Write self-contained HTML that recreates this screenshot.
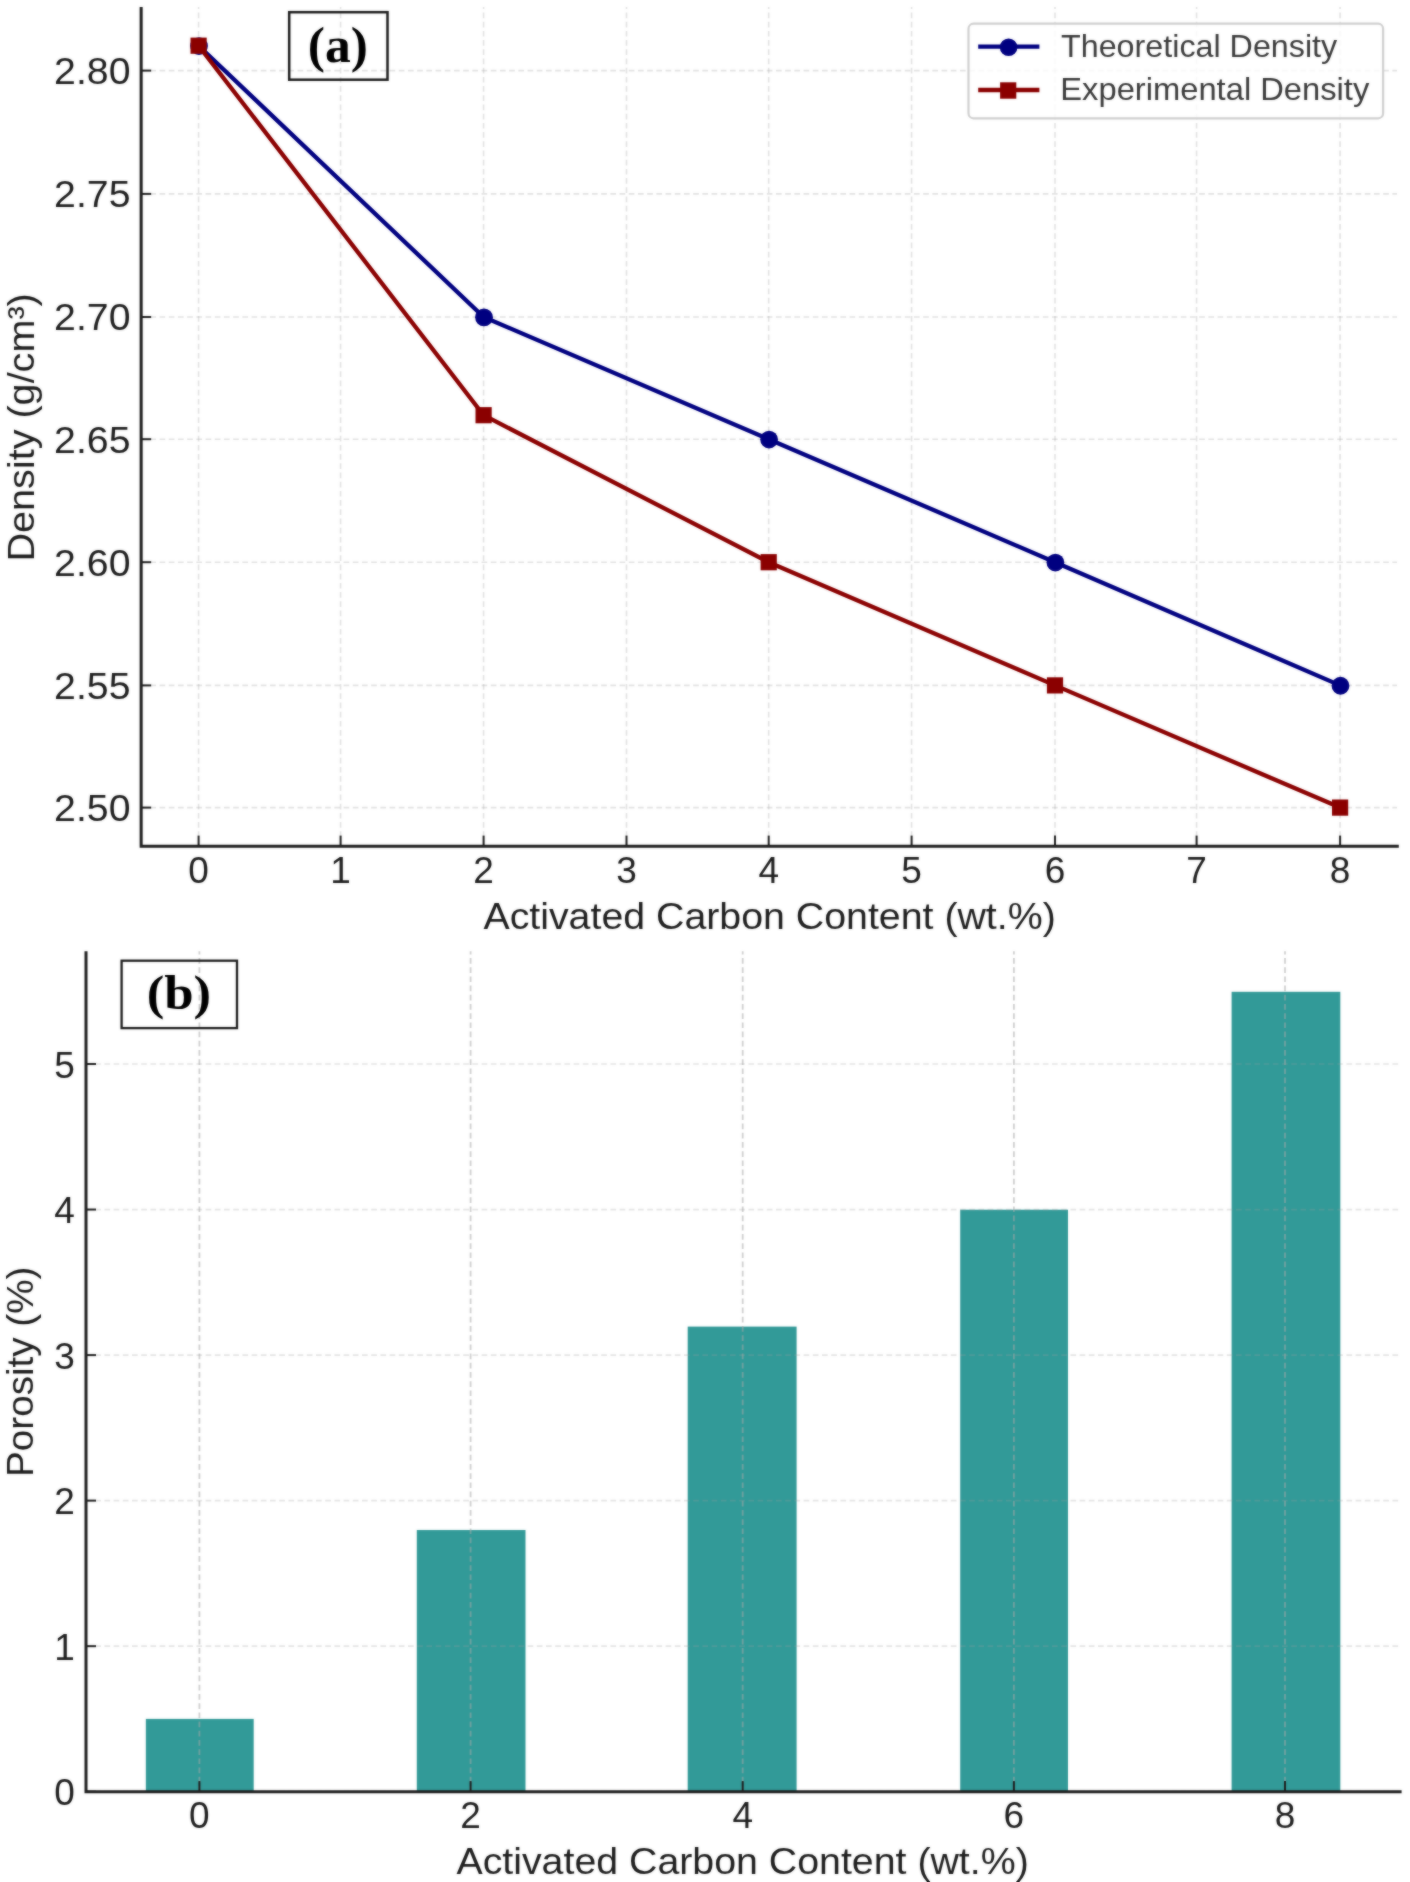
<!DOCTYPE html>
<html><head><meta charset="utf-8"><title>Density and porosity vs activated carbon content</title>
<style>html,body{margin:0;padding:0;background:#fff}body{width:1410px;height:1882px;overflow:hidden}svg{display:block;position:absolute;left:0;top:0}#crisp{filter:blur(0.3px)}#soft{filter:blur(0.8px);opacity:0.5}text{font-family:"Liberation Sans",sans-serif;fill:#1e1e1e}.ser{font-family:"Liberation Serif",serif;font-weight:bold;fill:#000}.lg{fill:#3a3a3a}</style></head><body>
<svg id="crisp" width="1410" height="1882" viewBox="0 0 1410 1882">
<defs><g id="fig">
<rect width="1410" height="1882" fill="#fff"/>
<g id="chart-a">
<line x1="198.60" y1="846.20" x2="198.60" y2="7.10" stroke="#a0a0a0" stroke-opacity="0.3" stroke-width="1.6" stroke-dasharray="5.7 3.5" fill="none"/>
<line x1="340.60" y1="846.20" x2="340.60" y2="7.10" stroke="#a0a0a0" stroke-opacity="0.3" stroke-width="1.6" stroke-dasharray="5.7 3.5" fill="none"/>
<line x1="483.60" y1="846.20" x2="483.60" y2="7.10" stroke="#a0a0a0" stroke-opacity="0.3" stroke-width="1.6" stroke-dasharray="5.7 3.5" fill="none"/>
<line x1="626.50" y1="846.20" x2="626.50" y2="7.10" stroke="#a0a0a0" stroke-opacity="0.3" stroke-width="1.6" stroke-dasharray="5.7 3.5" fill="none"/>
<line x1="768.70" y1="846.20" x2="768.70" y2="7.10" stroke="#a0a0a0" stroke-opacity="0.3" stroke-width="1.6" stroke-dasharray="5.7 3.5" fill="none"/>
<line x1="911.60" y1="846.20" x2="911.60" y2="7.10" stroke="#a0a0a0" stroke-opacity="0.3" stroke-width="1.6" stroke-dasharray="5.7 3.5" fill="none"/>
<line x1="1055.00" y1="846.20" x2="1055.00" y2="7.10" stroke="#a0a0a0" stroke-opacity="0.3" stroke-width="1.6" stroke-dasharray="5.7 3.5" fill="none"/>
<line x1="1196.60" y1="846.20" x2="1196.60" y2="7.10" stroke="#a0a0a0" stroke-opacity="0.3" stroke-width="1.6" stroke-dasharray="5.7 3.5" fill="none"/>
<line x1="1340.10" y1="846.20" x2="1340.10" y2="7.10" stroke="#a0a0a0" stroke-opacity="0.3" stroke-width="1.6" stroke-dasharray="5.7 3.5" fill="none"/>
<line x1="141.15" y1="807.60" x2="1397.00" y2="807.60" stroke="#a0a0a0" stroke-opacity="0.3" stroke-width="1.6" stroke-dasharray="5.7 3.5" fill="none"/>
<line x1="141.15" y1="685.40" x2="1397.00" y2="685.40" stroke="#a0a0a0" stroke-opacity="0.3" stroke-width="1.6" stroke-dasharray="5.7 3.5" fill="none"/>
<line x1="141.15" y1="562.20" x2="1397.00" y2="562.20" stroke="#a0a0a0" stroke-opacity="0.3" stroke-width="1.6" stroke-dasharray="5.7 3.5" fill="none"/>
<line x1="141.15" y1="439.20" x2="1397.00" y2="439.20" stroke="#a0a0a0" stroke-opacity="0.3" stroke-width="1.6" stroke-dasharray="5.7 3.5" fill="none"/>
<line x1="141.15" y1="317.00" x2="1397.00" y2="317.00" stroke="#a0a0a0" stroke-opacity="0.3" stroke-width="1.6" stroke-dasharray="5.7 3.5" fill="none"/>
<line x1="141.15" y1="193.90" x2="1397.00" y2="193.90" stroke="#a0a0a0" stroke-opacity="0.3" stroke-width="1.6" stroke-dasharray="5.7 3.5" fill="none"/>
<line x1="141.15" y1="70.60" x2="1397.00" y2="70.60" stroke="#a0a0a0" stroke-opacity="0.3" stroke-width="1.6" stroke-dasharray="5.7 3.5" fill="none"/>
<polyline fill="none" stroke="#000080" stroke-width="4.3" stroke-linejoin="round" points="198.60,45.70 483.60,317.00 768.70,439.20 1055.00,562.20 1340.10,685.40"/>
<circle cx="199.00" cy="46.05" r="8.9" fill="#000080"/>
<circle cx="484.00" cy="317.35" r="8.9" fill="#000080"/>
<circle cx="769.10" cy="439.55" r="8.9" fill="#000080"/>
<circle cx="1055.40" cy="562.55" r="8.9" fill="#000080"/>
<circle cx="1340.50" cy="685.75" r="8.9" fill="#000080"/>
<polyline fill="none" stroke="#8b0000" stroke-width="4.3" stroke-linejoin="round" points="198.60,45.70 483.60,415.20 768.70,562.20 1055.00,685.40 1340.10,807.60"/>
<rect x="190.50" y="37.60" width="16.2" height="16.2" fill="#8b0000"/>
<rect x="475.50" y="407.10" width="16.2" height="16.2" fill="#8b0000"/>
<rect x="760.60" y="554.10" width="16.2" height="16.2" fill="#8b0000"/>
<rect x="1046.90" y="677.30" width="16.2" height="16.2" fill="#8b0000"/>
<rect x="1332.00" y="799.50" width="16.2" height="16.2" fill="#8b0000"/>
<rect x="289.2" y="12.2" width="98.3" height="67.5" fill="none" stroke="#1c1c1c" stroke-width="2.5"/>
<text x="337.80" y="61.60" font-size="50.00" text-anchor="middle" textLength="60.20" lengthAdjust="spacingAndGlyphs" class="ser">(a)</text>
<rect x="968.5" y="23.7" width="414.6" height="94.6" rx="5" ry="5" fill="#fff" fill-opacity="0.8" stroke="#d0d0d0" stroke-width="2.2"/>
<line x1="978.2" y1="46.7" x2="1039.4" y2="46.7" stroke="#000080" stroke-width="4.3"/><circle cx="1008.6" cy="47.2" r="8.8" fill="#000080"/>
<line x1="978.2" y1="90.0" x2="1039.4" y2="90.0" stroke="#8b0000" stroke-width="4.3"/><rect x="1000.1" y="82.3" width="16.2" height="16.4" fill="#8b0000"/>
<text x="1061.00" y="56.80" font-size="30.50" text-anchor="start" textLength="276.20" lengthAdjust="spacingAndGlyphs" class="lg">Theoretical Density</text>
<text x="1060.30" y="100.40" font-size="30.50" text-anchor="start" textLength="309.00" lengthAdjust="spacingAndGlyphs" class="lg">Experimental Density</text>
<line x1="198.60" y1="846.20" x2="198.60" y2="835.60" stroke="#1e1e1e" stroke-width="2"/>
<text x="198.60" y="883.00" font-size="37.00" text-anchor="middle">0</text>
<line x1="340.60" y1="846.20" x2="340.60" y2="835.60" stroke="#1e1e1e" stroke-width="2"/>
<text x="340.60" y="883.00" font-size="37.00" text-anchor="middle">1</text>
<line x1="483.60" y1="846.20" x2="483.60" y2="835.60" stroke="#1e1e1e" stroke-width="2"/>
<text x="483.60" y="883.00" font-size="37.00" text-anchor="middle">2</text>
<line x1="626.50" y1="846.20" x2="626.50" y2="835.60" stroke="#1e1e1e" stroke-width="2"/>
<text x="626.50" y="883.00" font-size="37.00" text-anchor="middle">3</text>
<line x1="768.70" y1="846.20" x2="768.70" y2="835.60" stroke="#1e1e1e" stroke-width="2"/>
<text x="768.70" y="883.00" font-size="37.00" text-anchor="middle">4</text>
<line x1="911.60" y1="846.20" x2="911.60" y2="835.60" stroke="#1e1e1e" stroke-width="2"/>
<text x="911.60" y="883.00" font-size="37.00" text-anchor="middle">5</text>
<line x1="1055.00" y1="846.20" x2="1055.00" y2="835.60" stroke="#1e1e1e" stroke-width="2"/>
<text x="1055.00" y="883.00" font-size="37.00" text-anchor="middle">6</text>
<line x1="1196.60" y1="846.20" x2="1196.60" y2="835.60" stroke="#1e1e1e" stroke-width="2"/>
<text x="1196.60" y="883.00" font-size="37.00" text-anchor="middle">7</text>
<line x1="1340.10" y1="846.20" x2="1340.10" y2="835.60" stroke="#1e1e1e" stroke-width="2"/>
<text x="1340.10" y="883.00" font-size="37.00" text-anchor="middle">8</text>
<line x1="141.15" y1="807.60" x2="151.15" y2="807.60" stroke="#1e1e1e" stroke-width="2"/>
<text x="130.50" y="821.00" font-size="37.00" text-anchor="end" textLength="76.40" lengthAdjust="spacingAndGlyphs">2.50</text>
<line x1="141.15" y1="685.40" x2="151.15" y2="685.40" stroke="#1e1e1e" stroke-width="2"/>
<text x="130.50" y="698.80" font-size="37.00" text-anchor="end" textLength="76.40" lengthAdjust="spacingAndGlyphs">2.55</text>
<line x1="141.15" y1="562.20" x2="151.15" y2="562.20" stroke="#1e1e1e" stroke-width="2"/>
<text x="130.50" y="575.60" font-size="37.00" text-anchor="end" textLength="76.40" lengthAdjust="spacingAndGlyphs">2.60</text>
<line x1="141.15" y1="439.20" x2="151.15" y2="439.20" stroke="#1e1e1e" stroke-width="2"/>
<text x="130.50" y="452.60" font-size="37.00" text-anchor="end" textLength="76.40" lengthAdjust="spacingAndGlyphs">2.65</text>
<line x1="141.15" y1="317.00" x2="151.15" y2="317.00" stroke="#1e1e1e" stroke-width="2"/>
<text x="130.50" y="330.40" font-size="37.00" text-anchor="end" textLength="76.40" lengthAdjust="spacingAndGlyphs">2.70</text>
<line x1="141.15" y1="193.90" x2="151.15" y2="193.90" stroke="#1e1e1e" stroke-width="2"/>
<text x="130.50" y="207.30" font-size="37.00" text-anchor="end" textLength="76.40" lengthAdjust="spacingAndGlyphs">2.75</text>
<line x1="141.15" y1="70.60" x2="151.15" y2="70.60" stroke="#1e1e1e" stroke-width="2"/>
<text x="130.50" y="84.00" font-size="37.00" text-anchor="end" textLength="76.40" lengthAdjust="spacingAndGlyphs">2.80</text>
<path d="M141.15 7.10 V846.20 H1398.80" fill="none" stroke="#1e1e1e" stroke-width="3" stroke-linecap="butt" stroke-linejoin="miter"/>
<text x="769.60" y="928.60" font-size="37.00" text-anchor="middle" textLength="572.30" lengthAdjust="spacingAndGlyphs">Activated Carbon Content (wt.%)</text>
<text x="34.00" y="427.40" font-size="37.00" text-anchor="middle" textLength="268.30" lengthAdjust="spacingAndGlyphs" transform="rotate(-90 34.00 427.40)">Density (g/cm³)</text>
</g>
<g id="chart-b">
<rect x="145.85" y="1718.90" width="107.85" height="72.80" fill="#329a98"/>
<rect x="416.80" y="1530.00" width="108.70" height="261.70" fill="#329a98"/>
<rect x="687.70" y="1326.60" width="108.90" height="465.10" fill="#329a98"/>
<rect x="960.20" y="1209.70" width="107.80" height="582.00" fill="#329a98"/>
<rect x="1231.60" y="991.80" width="108.70" height="799.90" fill="#329a98"/>
<line x1="199.40" y1="1791.70" x2="199.40" y2="951.20" stroke="#a8a8a8" stroke-opacity="0.55" stroke-width="1.8" stroke-dasharray="5.7 3.5" fill="none"/>
<line x1="470.60" y1="1791.70" x2="470.60" y2="951.20" stroke="#a8a8a8" stroke-opacity="0.55" stroke-width="1.8" stroke-dasharray="5.7 3.5" fill="none"/>
<line x1="742.70" y1="1791.70" x2="742.70" y2="951.20" stroke="#a8a8a8" stroke-opacity="0.55" stroke-width="1.8" stroke-dasharray="5.7 3.5" fill="none"/>
<line x1="1013.90" y1="1791.70" x2="1013.90" y2="951.20" stroke="#a8a8a8" stroke-opacity="0.55" stroke-width="1.8" stroke-dasharray="5.7 3.5" fill="none"/>
<line x1="1285.00" y1="1791.70" x2="1285.00" y2="951.20" stroke="#a8a8a8" stroke-opacity="0.55" stroke-width="1.8" stroke-dasharray="5.7 3.5" fill="none"/>
<line x1="86.00" y1="1791.70" x2="1400.00" y2="1791.70" stroke="#a0a0a0" stroke-opacity="0.27" stroke-width="1.7" stroke-dasharray="5.7 3.5" fill="none"/>
<line x1="86.00" y1="1646.16" x2="1400.00" y2="1646.16" stroke="#a0a0a0" stroke-opacity="0.27" stroke-width="1.7" stroke-dasharray="5.7 3.5" fill="none"/>
<line x1="86.00" y1="1500.62" x2="1400.00" y2="1500.62" stroke="#a0a0a0" stroke-opacity="0.27" stroke-width="1.7" stroke-dasharray="5.7 3.5" fill="none"/>
<line x1="86.00" y1="1355.08" x2="1400.00" y2="1355.08" stroke="#a0a0a0" stroke-opacity="0.27" stroke-width="1.7" stroke-dasharray="5.7 3.5" fill="none"/>
<line x1="86.00" y1="1209.54" x2="1400.00" y2="1209.54" stroke="#a0a0a0" stroke-opacity="0.27" stroke-width="1.7" stroke-dasharray="5.7 3.5" fill="none"/>
<line x1="86.00" y1="1064.00" x2="1400.00" y2="1064.00" stroke="#a0a0a0" stroke-opacity="0.27" stroke-width="1.7" stroke-dasharray="5.7 3.5" fill="none"/>
<rect x="121.6" y="960.7" width="115.4" height="67.4" fill="none" stroke="#1c1c1c" stroke-width="2.3"/>
<text x="178.90" y="1009.20" font-size="48.50" text-anchor="middle" textLength="64.50" lengthAdjust="spacingAndGlyphs" class="ser">(b)</text>
<line x1="199.40" y1="1791.70" x2="199.40" y2="1781.10" stroke="#1e1e1e" stroke-width="2"/>
<text x="199.40" y="1828.00" font-size="37.00" text-anchor="middle">0</text>
<line x1="470.60" y1="1791.70" x2="470.60" y2="1781.10" stroke="#1e1e1e" stroke-width="2"/>
<text x="470.60" y="1828.00" font-size="37.00" text-anchor="middle">2</text>
<line x1="742.70" y1="1791.70" x2="742.70" y2="1781.10" stroke="#1e1e1e" stroke-width="2"/>
<text x="742.70" y="1828.00" font-size="37.00" text-anchor="middle">4</text>
<line x1="1013.90" y1="1791.70" x2="1013.90" y2="1781.10" stroke="#1e1e1e" stroke-width="2"/>
<text x="1013.90" y="1828.00" font-size="37.00" text-anchor="middle">6</text>
<line x1="1285.00" y1="1791.70" x2="1285.00" y2="1781.10" stroke="#1e1e1e" stroke-width="2"/>
<text x="1285.00" y="1828.00" font-size="37.00" text-anchor="middle">8</text>
<line x1="86.00" y1="1791.70" x2="96.00" y2="1791.70" stroke="#1e1e1e" stroke-width="2"/>
<text x="74.80" y="1805.30" font-size="37.00" text-anchor="end">0</text>
<line x1="86.00" y1="1646.16" x2="96.00" y2="1646.16" stroke="#1e1e1e" stroke-width="2"/>
<text x="74.80" y="1659.76" font-size="37.00" text-anchor="end">1</text>
<line x1="86.00" y1="1500.62" x2="96.00" y2="1500.62" stroke="#1e1e1e" stroke-width="2"/>
<text x="74.80" y="1514.22" font-size="37.00" text-anchor="end">2</text>
<line x1="86.00" y1="1355.08" x2="96.00" y2="1355.08" stroke="#1e1e1e" stroke-width="2"/>
<text x="74.80" y="1368.68" font-size="37.00" text-anchor="end">3</text>
<line x1="86.00" y1="1209.54" x2="96.00" y2="1209.54" stroke="#1e1e1e" stroke-width="2"/>
<text x="74.80" y="1223.14" font-size="37.00" text-anchor="end">4</text>
<line x1="86.00" y1="1064.00" x2="96.00" y2="1064.00" stroke="#1e1e1e" stroke-width="2"/>
<text x="74.80" y="1077.60" font-size="37.00" text-anchor="end">5</text>
<path d="M86.00 951.20 V1791.70 H1401.60" fill="none" stroke="#1e1e1e" stroke-width="3" stroke-linecap="butt" stroke-linejoin="miter"/>
<text x="742.60" y="1874.40" font-size="37.00" text-anchor="middle" textLength="572.30" lengthAdjust="spacingAndGlyphs">Activated Carbon Content (wt.%)</text>
<text x="33.00" y="1371.80" font-size="37.00" text-anchor="middle" textLength="210.40" lengthAdjust="spacingAndGlyphs" transform="rotate(-90 33.00 1371.80)">Porosity (%)</text>
</g>
</g></defs>
<use href="#fig"/>
</svg>
<svg id="soft" width="1410" height="1882" viewBox="0 0 1410 1882"><use href="#fig"/></svg>
</body></html>
